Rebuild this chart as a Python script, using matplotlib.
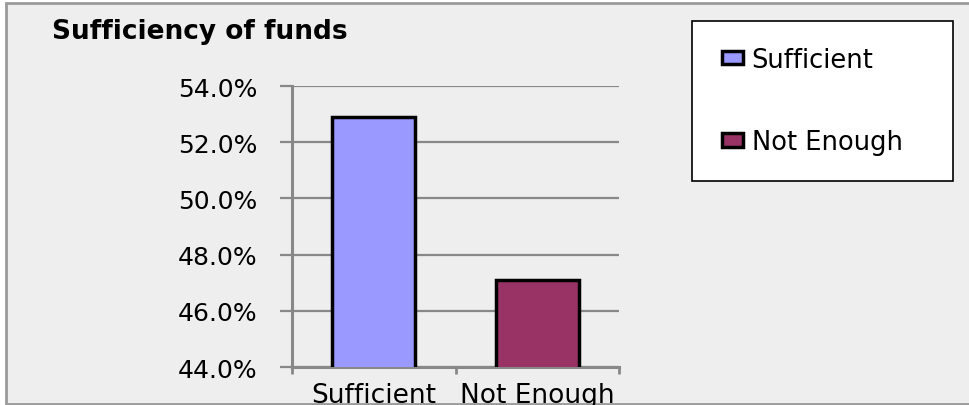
import numpy as np
import matplotlib
matplotlib.use("Agg")
import matplotlib.pyplot as plt
from matplotlib.patches import Rectangle, Patch

# dati
categorie = ["Sufficient", "Not Enough"]
percentuali = [52.9, 47.1]
colori = ["#9999FF", "#993366"]
tick_y = [44, 46, 48, 50, 52, 54]

W, H = 969, 406
fig = plt.figure(figsize=(W / 100, H / 100), dpi=100, facecolor="white")
plt.rcParams["font.family"] = ["DejaVu Sans"]

# cornice esterna grigia
fig.patches.append(Rectangle((6 / W, 1 / H), 1.0, (401) / H, transform=fig.transFigure,
                             facecolor="#EEEEEE", edgecolor="#9A9A9A", lw=2, zorder=0))

ax = fig.add_axes([292 / W, 38 / H, 327 / W, 281 / H])
ax.set_zorder(2)
ax.patch.set_visible(False)

xx = np.arange(len(categorie))
ax.bar(xx, percentuali, width=0.51, color=colori, edgecolor="black", linewidth=2.5, zorder=3)

ax.set_xlim(-0.5, 1.5)
ax.set_ylim(44, 54)
ax.set_yticks(tick_y)
ax.set_yticklabels([f"{v:.1f}%" for v in tick_y])
ax.set_xticks(xx)
ax.set_xticklabels(categorie)
ax.set_xticks([-0.5, 0.5, 1.5], minor=True)

ax.grid(True, axis="y", color="#888888", lw=1.6, zorder=1)
for s in ["top", "right"]:
    ax.spines[s].set_visible(False)
for s in ["left", "bottom"]:
    ax.spines[s].set_color("#888888")
    ax.spines[s].set_linewidth(2.2)
ax.tick_params(axis="y", length=9, width=1.6, color="#888888", pad=16, labelsize=18)
ax.tick_params(axis="x", which="major", length=0, pad=11, labelsize=19)
ax.tick_params(axis="x", which="minor", length=5, width=2, color="#888888")

# titolo
fig.text(52 / W, 1 - 32 / H, "Sufficiency of funds", fontsize=19, fontweight="bold", va="center", ha="left")

# legenda con riquadro bianco
fig.patches.append(Rectangle((692 / W, (H - 182) / H), 261 / W, 160 / H, transform=fig.transFigure,
                             facecolor="white", edgecolor="black", lw=1.2, zorder=1))
maniglie = [Patch(facecolor=c, edgecolor="black", linewidth=2.5) for c in colori]
leg = fig.legend(maniglie, categorie, loc="center left", bbox_to_anchor=(722 / W, 1 - 102 / H),
                 frameon=False, fontsize=18.5, borderpad=0, borderaxespad=0, labelspacing=2.2,
                 handlelength=0.8, handleheight=0.45, handletextpad=0.35)
leg.set_zorder(3)

fig.savefig("out.png", dpi=100, facecolor="white")
